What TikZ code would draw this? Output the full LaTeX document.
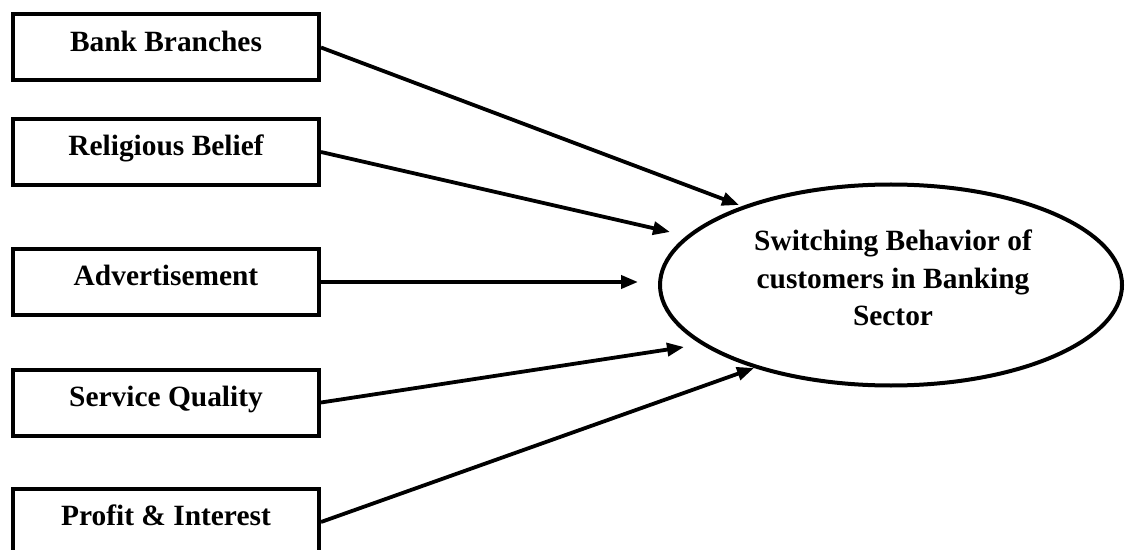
\documentclass[tikz,border=0pt]{standalone}
\usepackage{fontspec}
\setmainfont{Liberation Serif}
\usetikzlibrary{arrows.meta,shapes.geometric}
\tikzset{
  factor/.style={draw,line width=2pt,minimum width=153pt,minimum height=33pt,inner sep=0pt,
    text height=0.68em,text depth=0.3em},
  outcome/.style={draw,ellipse,line width=2pt,minimum width=231pt,minimum height=100.5pt,inner sep=0pt},
  link/.style={->,line width=1.9pt}
}
\begin{document}
\begin{tikzpicture}[x=0.5pt,y=-0.5pt,>={Triangle[length=8.5pt,width=6.5pt]},font=\fontsize{14.7}{18.75}\selectfont\bfseries]
				\useasboundingbox (0,0) rectangle (1127,550);
				\clip (0,0) rectangle (1127,550);
				\node[factor] (bank) at (166,47.5) {Bank Branches};
				\node[factor] (relig) at (166,152) {Religious Belief};
				\node[factor] (advert) at (166,282) {Advertisement};
				\node[factor] (service) at (166,402.5) {Service Quality};
				\node[factor] (profit) at (166,522) {Profit \& Interest};
				\node[outcome] (switch) at (891,285) {};
				\node[align=center] (switchtext) at (893,278) {Switching Behavior of\\customers in Banking\\Sector};
				\coordinate (tbank) at (739,205);
				\coordinate (trelig) at (670,232);
				\coordinate (tadvert) at (638,282);
				\coordinate (tservice) at (684,347);
				\coordinate (tprofit) at (754,368);
				\draw[link] (bank.east)--(tbank);
				\draw[link] (relig.east)--(trelig);
				\draw[link] (advert.east)--(tadvert);
				\draw[link] (service.east)--(tservice);
				\draw[link] (profit.east)--(tprofit);
			\end{tikzpicture}
\end{document}
